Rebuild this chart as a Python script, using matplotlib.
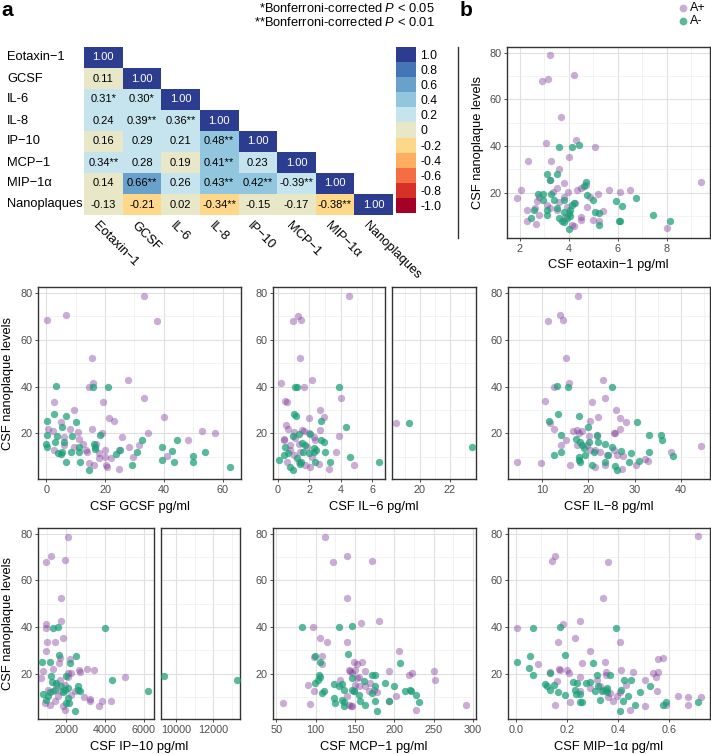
import numpy as np
import matplotlib
matplotlib.use("Agg")
from matplotlib import pyplot as plt
from matplotlib.colors import ListedColormap, BoundaryNorm
from matplotlib.ticker import MultipleLocator, FormatStrFormatter
from matplotlib.lines import Line2D
import matplotlib.transforms as mtrans

plt.rcParams['font.family'] = ['Liberation Sans', 'DejaVu Sans']
plt.rcParams['mathtext.fontset'] = 'custom'
plt.rcParams['mathtext.it'] = 'Liberation Sans:italic'
plt.rcParams['mathtext.rm'] = 'Liberation Sans'

# ---- panel a: correlation matrix ----
names = ["Eotaxin−1", "GCSF", "IL-6", "IL-8", "IP−10", "MCP−1", "MIP−1α", "Nanoplaques"]
corr_rows = [
    [1.00],
    [0.11, 1.00],
    [0.31, 0.30, 1.00],
    [0.24, 0.39, 0.36, 1.00],
    [0.16, 0.29, 0.21, 0.48, 1.00],
    [0.34, 0.28, 0.19, 0.41, 0.23, 1.00],
    [0.14, 0.66, 0.26, 0.43, 0.42, -0.39, 1.00],
    [-0.13, -0.21, 0.02, -0.34, -0.15, -0.17, -0.38, 1.00],
]
star_rows = [
    [""],
    ["", ""],
    ["*", "*", ""],
    ["", "**", "**", ""],
    ["", "", "", "**", ""],
    ["**", "", "", "**", "", ""],
    ["", "**", "", "**", "**", "**", ""],
    ["", "", "", "**", "", "", "**", ""],
]
# the published figure shades the MIP-1a / MCP-1 cell as a positive value
shade_override = {(6, 5): 0.2}

levels = [-1.0, -0.8, -0.6, -0.4, -0.2, 0.0, 0.2, 0.4, 0.6, 0.8, 1.0]
level_colors = ["#a50026", "#d73027", "#f46d43", "#fdae61", "#fdd88a", "#e8e8c9",
                "#c6e4ee", "#92c5de", "#6aa1cb", "#4575b4", "#2c3d8f"]

# ---- panel b: scatter data (x, nanoplaque level) ----
eotaxin_pos = [(3.22, 78.9), (2.91, 68.0), (3.14, 68.5), (4.23, 70.4), (3.70, 52.3), (3.06, 41.4),
               (4.29, 42.7), (5.09, 39.7), (4.0, 35.5), (2.34, 33.6), (3.29, 33.6), (3.59, 30.1),
               (3.81, 24.0), (9.40, 24.7), (2.05, 21.0), (1.9, 17.6), (5.63, 21.1), (6.08, 20.4),
               (6.52, 21.1), (5.20, 19.4), (4.49, 21.8), (4.35, 21.1), (3.96, 20.4), (4.71, 23.3),
               (3.25, 25.4), (3.36, 20.4), (2.78, 18.3), (3.62, 16.2), (4.27, 15.5), (2.30, 12.6),
               (2.61, 13.3), (2.78, 10.5), (2.30, 8.0), (2.67, 6.7), (3.52, 12.6), (3.12, 14.8),
               (3.86, 9.8), (4.49, 9.8), (4.49, 8.4), (5.0, 8.4), (5.24, 7.7), (5.41, 12.2),
               (4.14, 6.2), (4.2, 5.8), (8.01, 5.0), (2.71, 16.6), (3.52, 21.8), (4.88, 18.3),
               (3.93, 14.0), (3.25, 13.3), (3.80, 18.3), (4.75, 14.0)]
eotaxin_neg = [(3.61, 39.7), (4.15, 39.7), (4.42, 40.3), (3.12, 28.2), (3.54, 27.8), (3.22, 25.4),
               (4.72, 24.7), (4.61, 22.8), (4.75, 19.0), (2.73, 19.3), (2.95, 19.3), (3.27, 19.3),
               (2.95, 16.9), (3.41, 16.9), (3.80, 16.9), (4.99, 16.9), (5.93, 16.3), (6.17, 14.5),
               (6.76, 17.6), (3.12, 12.6), (3.52, 13.3), (3.80, 11.9), (4.0, 11.2), (4.07, 12.6),
               (4.14, 14.8), (4.20, 15.5), (5.09, 11.9), (5.24, 11.2), (3.12, 10.5), (2.57, 12.6),
               (2.44, 9.1), (3.73, 7.7), (3.80, 7.3), (4.03, 4.4), (6.06, 7.9), (6.10, 7.9),
               (5.24, 6.3), (7.46, 10.5), (8.12, 7.9), (3.93, 9.1), (3.59, 9.1), (4.07, 10.1)]

gcsf_pos = [(0.2, 68.5), (6.8, 70.4), (33.1, 78.6), (37.5, 67.9), (15.4, 52.3), (15.8, 41.3),
            (14.5, 39.6), (27.8, 42.7), (33.1, 35.3), (2.7, 33.6), (9.6, 30.2), (19.2, 33.6),
            (39.9, 27.1), (21.5, 26.5), (22.9, 25.1), (0.6, 21.8), (2.3, 21.0), (5.1, 24.7),
            (8.1, 21.7), (10.7, 20.8), (15.4, 21.7), (18.9, 20.4), (25.8, 18.7), (34.6, 20.4),
            (48.1, 17.4), (52.8, 21.0), (57.4, 20.4), (2.8, 12.9), (6.2, 15.0), (12.4, 15.7),
            (13.6, 12.9), (13.8, 12.2), (9.3, 14.3), (20.1, 12.9), (20.1, 10.1), (20.3, 6.5),
            (20.6, 5.8), (14.7, 7.5), (16.4, 6.7), (22.1, 9.4), (24.9, 4.8), (28.3, 14.3),
            (29.4, 10.1), (31.6, 15.0), (41.2, 10.5), (24.9, 12.9), (11.1, 17.6), (6.2, 18.6),
            (16.9, 15.7), (18.1, 11.5), (18.1, 9.4)]
gcsf_neg = [(3.4, 40.3), (15.8, 39.6), (21.1, 39.7), (2.6, 28.2), (6.8, 27.5), (0.1, 25.2),
            (10.2, 24.7), (5.3, 22.6), (0.1, 19.3), (3.6, 19.0), (8.8, 19.0), (18.4, 19.3),
            (2.9, 16.2), (6.0, 16.5), (0.0, 15.5), (0.2, 14.1), (11.0, 14.3), (16.2, 15.7),
            (16.7, 14.3), (16.6, 13.2), (32.5, 17.2), (44.3, 17.4), (39.3, 14.3), (42.6, 12.6),
            (4.0, 11.5), (5.2, 12.2), (8.5, 12.2), (11.3, 12.2), (23.7, 11.1), (25.1, 12.9),
            (31.0, 12.2), (53.9, 12.2), (50.0, 10.4), (6.8, 7.9), (11.6, 7.7), (14.7, 4.4),
            (29.2, 6.7), (39.2, 8.5), (43.5, 7.8), (50.0, 7.8), (62.5, 5.8), (5.1, 11.2)]

il6_pos = [(4.48, 78.6), (0.93, 67.8), (1.27, 70.2), (1.48, 68.5), (1.42, 52.2), (0.19, 41.3),
           (1.63, 39.6), (2.16, 42.7), (4.02, 35.3), (0.47, 33.7), (0.57, 33.4), (2.69, 30.2),
           (2.90, 27.1), (0.53, 23.5), (0.61, 22.1), (0.40, 17.6), (0.99, 20.7), (1.52, 21.4),
           (1.67, 21.0), (1.95, 20.3), (1.99, 26.4), (2.69, 21.4), (3.85, 19.0), (0.74, 12.9),
           (0.99, 10.8), (1.42, 12.2), (1.84, 14.3), (2.37, 17.2), (2.58, 7.2), (3.21, 4.8),
           (3.68, 12.2), (4.84, 6.5), (1.31, 15.7), (2.16, 10.1), (0.57, 7.9), (1.31, 7.9),
           (1.73, 6.5), (2.05, 5.8), (0.36, 17.2), (1.10, 17.9), (2.26, 18.6), (0.78, 15.0),
           (18.4, 24.5)]
il6_neg = [(1.06, 39.9), (1.21, 39.6), (3.85, 39.6), (0.99, 28.2), (1.16, 27.5), (2.75, 25.2),
           (4.33, 22.6), (0.93, 19.0), (1.31, 19.6), (2.05, 19.6), (2.75, 17.2), (2.94, 16.5),
           (1.52, 16.0), (1.73, 15.0), (2.26, 13.6), (2.30, 12.2), (2.43, 12.9), (3.00, 12.2),
           (0.61, 11.8), (0.36, 10.8), (0.04, 8.9), (1.21, 9.4), (1.48, 7.9), (1.95, 11.5),
           (2.33, 7.7), (3.32, 7.7), (0.95, 4.4), (0.74, 5.8), (1.37, 6.9), (4.55, 10.1),
           (1.59, 12.2), (0.47, 14.3), (6.45, 8.0), (19.3, 24.5), (23.5, 14.2)]

il8_pos = [(17.8, 78.6), (11.2, 67.9), (14.0, 70.4), (14.5, 68.5), (15.2, 52.2), (15.9, 41.3),
           (12.7, 39.6), (23.1, 42.7), (23.7, 35.3), (10.7, 33.7), (20.9, 33.4), (26.0, 30.2),
           (26.9, 26.4), (28.1, 24.7), (22.2, 27.1), (20.4, 25.2), (11.7, 24.3), (12.5, 21.7),
           (16.7, 21.0), (17.6, 21.4), (18.1, 20.4), (18.6, 21.1), (20.1, 19.0), (21.9, 19.0),
           (25.5, 20.3), (25.8, 20.4), (26.8, 21.7), (15.2, 17.4), (14.1, 15.0), (17.6, 15.0),
           (19.7, 15.0), (21.5, 12.9), (24.0, 10.8), (25.5, 12.9), (26.2, 10.8), (27.6, 10.4),
           (32.3, 9.1), (32.9, 8.4), (37.8, 11.9), (44.3, 14.6), (4.6, 7.9), (9.8, 7.5),
           (16.1, 6.5), (21.5, 5.8), (23.7, 6.5), (27.3, 4.7), (30.4, 6.5), (20.4, 12.9),
           (22.6, 12.2)]
il8_neg = [(13.2, 40.3), (15.7, 39.6), (25.2, 39.6), (13.4, 28.2), (18.0, 27.5), (11.6, 25.2),
           (30.5, 24.7), (20.0, 22.6), (14.2, 19.3), (21.9, 19.3), (33.2, 19.3), (35.7, 19.3),
           (36.0, 17.4), (17.3, 17.6), (18.3, 16.5), (20.1, 16.5), (18.6, 15.0), (19.0, 13.6),
           (22.2, 16.5), (23.7, 15.7), (25.1, 14.3), (27.1, 12.6), (29.3, 11.5), (33.2, 12.2),
           (14.2, 12.2), (12.7, 10.8), (21.2, 12.2), (24.2, 10.8), (30.9, 8.4), (28.9, 7.7),
           (38.4, 10.4), (18.3, 7.7), (18.1, 8.7), (20.7, 6.5), (25.7, 6.1), (26.3, 4.4),
           (23.7, 7.9), (17.9, 10.1), (19.4, 10.8)]

ip10_pos = [(2086, 78.6), (931, 67.9), (1224, 70.3), (1948, 68.6), (1741, 52.3), (931, 41.3),
            (966, 39.5), (1741, 42.6), (1828, 35.2), (1017, 33.5), (1397, 33.5), (931, 29.8),
            (1690, 26.7), (2207, 26.4), (1621, 24.5), (793, 21.2), (1310, 22.0), (2069, 20.3),
            (2259, 20.3), (2690, 20.7), (3069, 22.0), (3431, 21.4), (5017, 18.5), (3810, 8.4),
            (3207, 8.1), (4276, 8.1), (3241, 9.2), (3672, 6.3), (2914, 9.9), (1655, 17.4),
            (1483, 15.3), (1741, 12.4), (1914, 15.3), (1310, 12.4), (1052, 13.1), (879, 7.5),
            (1138, 6.7), (1397, 8.2), (1828, 6.0), (1914, 4.6), (2431, 12.4), (2259, 11.0),
            (1586, 10.3), (2086, 18.8), (2655, 21.7), (707, 18.1)]
ip10_neg = [(1310, 39.5), (1569, 40.2), (4000, 39.5), (1621, 28.1), (2517, 27.4), (741, 25.2),
            (1138, 25.2), (2190, 24.5), (1224, 19.1), (2000, 19.1), (4362, 17.4), (6224, 12.4),
            (793, 11.4), (1138, 12.0), (1397, 13.1), (1483, 16.0), (1914, 13.1), (2086, 13.9),
            (2603, 14.6), (2690, 12.4), (2603, 13.1), (1724, 14.6), (1810, 12.0), (2086, 9.6),
            (2138, 7.5), (2000, 7.5), (1052, 10.3), (1276, 16.3), (2466, 3.9), (931, 8.9),
            (9380, 19.1), (13240, 17.3)]

mcp1_pos = [(112.3, 78.6), (139.8, 70.2), (121.6, 67.9), (171.6, 68.4), (139.8, 52.3), (157.5, 41.6),
            (180.0, 42.7), (96.6, 39.9), (105.9, 35.5), (114.4, 33.5), (139.8, 33.5), (98.3, 27.2),
            (108.0, 27.6), (108.0, 24.1), (206.4, 29.9), (148.3, 25.0), (152.5, 24.1), (158.9, 24.8),
            (162.3, 21.3), (192.8, 21.0), (222.5, 20.3), (218.2, 19.3), (250.8, 21.0), (252.1, 17.4),
            (291.1, 6.5), (227.5, 4.6), (193.6, 8.4), (202.1, 10.3), (146.2, 6.0), (150.4, 15.3),
            (163.1, 14.6), (167.4, 12.4), (173.7, 13.1), (177.9, 12.0), (154.7, 18.8), (142.0, 21.7),
            (144.1, 21.0), (150.4, 21.4), (152.5, 18.1), (131.4, 17.1), (148.3, 12.4), (139.8, 10.3),
            (142.0, 6.7), (90.3, 15.0), (92.4, 7.2), (58.5, 7.5), (97.5, 12.4), (144.9, 6.0),
            (154.7, 14.6), (169.5, 16.0), (146.2, 20.3)]
mcp1_neg = [(82.6, 39.9), (130.1, 39.9), (146.2, 40.5), (98.7, 27.6), (141.1, 28.4), (105.0, 25.2),
            (207.6, 24.5), (103.8, 19.3), (105.0, 18.8), (103.0, 17.4), (99.6, 16.0), (110.2, 12.4),
            (108.0, 11.7), (122.9, 15.7), (129.2, 14.6), (133.5, 15.7), (135.6, 13.1), (122.9, 9.6),
            (125.0, 7.5), (133.5, 8.9), (135.6, 7.7), (135.6, 6.1), (146.2, 13.1), (156.8, 8.2),
            (171.6, 19.3), (175.8, 19.3), (161.0, 16.7), (175.8, 14.6), (187.7, 16.0), (171.6, 11.7),
            (175.8, 8.2), (177.9, 4.2), (163.1, 6.7), (199.2, 14.6), (214.0, 12.4), (219.5, 13.1),
            (221.2, 12.4), (227.5, 11.0), (230.9, 7.7), (193.6, 8.2), (146.2, 18.1), (148.3, 12.8),
            (154.7, 11.0)]

mip1a_pos = [(0.714, 78.9), (0.141, 68.3), (0.154, 70.3), (0.359, 67.9), (0.340, 52.3), (0.184, 41.3),
             (0.251, 42.6), (0.408, 33.5), (0.005, 39.5), (0.163, 33.5), (0.232, 35.5), (0.290, 29.9),
             (0.577, 26.9), (0.557, 26.4), (0.349, 25.2), (0.260, 24.5), (0.085, 24.1), (0.132, 20.7),
             (0.169, 22.0), (0.173, 21.4), (0.199, 21.7), (0.206, 20.3), (0.251, 18.8), (0.353, 20.7),
             (0.353, 19.3), (0.410, 21.4), (0.457, 20.7), (0.505, 17.4), (0.535, 20.3), (0.557, 20.6),
             (0.548, 18.4), (0.553, 12.4), (0.635, 10.6), (0.674, 10.0), (0.724, 10.0), (0.674, 6.5),
             (0.587, 6.5), (0.505, 6.0), (0.447, 4.6), (0.212, 7.7), (0.152, 6.5), (0.160, 16.7),
             (0.290, 13.9), (0.329, 14.6), (0.342, 13.1), (0.362, 9.9), (0.378, 8.2), (0.408, 12.0),
             (0.431, 15.0), (0.251, 12.4), (0.316, 17.4), (0.368, 11.7), (0.395, 10.3)]
mip1a_neg = [(0.065, 39.5), (0.173, 40.2), (0.391, 39.5), (0.004, 25.1), (0.056, 27.7), (0.193, 28.1),
             (0.301, 24.5), (0.053, 22.4), (0.065, 19.3), (0.134, 20.3), (0.319, 19.3), (0.368, 19.3),
             (0.112, 15.7), (0.121, 14.9), (0.134, 13.1), (0.150, 15.3), (0.163, 12.0), (0.223, 16.4),
             (0.232, 13.1), (0.251, 11.4), (0.236, 11.3), (0.193, 10.7), (0.238, 16.0), (0.275, 16.0),
             (0.288, 16.6), (0.320, 14.6), (0.310, 12.7), (0.336, 12.4), (0.353, 13.1), (0.355, 12.1),
             (0.329, 8.9), (0.355, 13.9), (0.410, 13.1), (0.421, 17.4), (0.449, 17.4), (0.440, 10.3),
             (0.418, 8.2), (0.408, 4.2), (0.466, 6.5), (0.525, 14.6), (0.577, 6.5), (0.587, 7.7),
             (0.714, 7.7), (0.249, 7.7), (0.258, 7.7), (0.486, 12.0)]

PURPLE, GREEN = "#7b3294", "#1b9e77"
A_PURPLE, A_GREEN = 0.4, 0.72

W, H = 711, 754
fig = plt.figure(figsize=(W / 100, H / 100), dpi=100)


def px_axes(x0, y0, x1, y1):
    return fig.add_axes([x0 / W, 1 - y1 / H, (x1 - x0) / W, (y1 - y0) / H])


def ftext(x, y, s, **kw):
    return fig.text(x / W, 1 - y / H, s, **kw)


# ---------- heatmap ----------
n = len(names)
M = np.full((n, n), np.nan)
for i, row in enumerate(corr_rows):
    M[i, :len(row)] = row
shade = np.trunc(M / 0.2 + np.sign(np.nan_to_num(M)) * 1e-9) * 0.2
for (i, j), v in shade_override.items():
    shade[i, j] = v

cmap = ListedColormap(level_colors)
bounds = np.linspace(-1.1, 1.1, 12)
norm = BoundaryNorm(bounds, cmap.N)

hx0, hy0, hx1, hy1 = 84, 47, 393, 215
hax = px_axes(hx0, hy0, hx1, hy1)
hax.pcolormesh(np.arange(n + 1), np.arange(n + 1), np.ma.masked_invalid(shade), cmap=cmap, norm=norm)
hax.set_xlim(0, n)
hax.set_ylim(n, 0)
hax.axis('off')
for i, row in enumerate(corr_rows):
    for j, v in enumerate(row):
        hax.text(j + 0.5, i + 0.5, f"{v:.2f}{star_rows[i][j]}", ha='center', va='center',
                 fontsize=8, color='white' if i == j else 'black')
row_h = (hy1 - hy0) / n
for i, name in enumerate(names):
    ftext(7, hy0 + (i + 0.5) * row_h, name, ha='left', va='center', fontsize=9.3)
lab_tr = mtrans.offset_copy(hax.transData, fig=fig, x=-3, y=-3, units='points')
for j, name in enumerate(names):
    hax.text(j + 0.5, n, name, transform=lab_tr, rotation=-45, rotation_mode='anchor',
             ha='left', va='top', fontsize=9.3, clip_on=False)

# colorbar
cax = px_axes(396, 47, 416, 213)
cax.pcolormesh([0, 1], bounds, np.array(levels).reshape(-1, 1), cmap=cmap, norm=norm)
cax.set_xlim(0, 1)
cax.set_ylim(-1.1, 1.1)
cax.set_xticks([])
cax.set_yticks(levels)
cax.set_yticklabels(["0" if abs(l) < 1e-9 else f"{l:.1f}" for l in levels])
cax.yaxis.tick_right()
cax.tick_params(axis='y', length=0, labelsize=8.7, pad=3)
for s in cax.spines.values():
    s.set_visible(False)

ftext(435, 9, r"*Bonferroni-corrected $\it{P}$ < 0.05", ha='right', va='center', fontsize=9.3)
ftext(435, 23, r"**Bonferroni-corrected $\it{P}$ < 0.01", ha='right', va='center', fontsize=9.3)

# ---------- scatter panels ----------
def scatter_panel(rect, pos, neg, xlim, major, fmt=None, ylabels=True):
    ax = px_axes(*rect)
    for pts, col, a in ((pos, PURPLE, A_PURPLE), (neg, GREEN, A_GREEN)):
        x, y = zip(*pts)
        ax.scatter(x, y, s=28, color=col, alpha=a, linewidths=0, zorder=3)
    ax.set_xlim(xlim)
    ax.set_ylim(0.6, 82.4)
    ax.xaxis.set_major_locator(MultipleLocator(major))
    ax.xaxis.set_minor_locator(MultipleLocator(major / 2))
    ax.yaxis.set_major_locator(MultipleLocator(20))
    ax.yaxis.set_minor_locator(MultipleLocator(10))
    if fmt:
        ax.xaxis.set_major_formatter(FormatStrFormatter(fmt))
    ax.grid(which='major', color='#e0e0e0', lw=0.8)
    ax.grid(which='minor', color='#eeeeee', lw=0.5)
    ax.set_axisbelow(True)
    ax.tick_params(which='minor', length=0)
    ax.tick_params(which='major', length=2.5, width=0.6, color='#333333',
                   labelsize=7.8, labelcolor='#4d4d4d', pad=1.5)
    if not ylabels:
        ax.tick_params(axis='y', left=False, labelleft=False)
    for s in ax.spines.values():
        s.set_color('#333333')
        s.set_linewidth(1.0)
    return ax


r1, r2, r3 = (47, 238), (287, 479), (528, 719)

scatter_panel((507, r1[0], 710, r1[1]), eotaxin_pos, eotaxin_neg, (1.48, 9.77), 2)
scatter_panel((38, r2[0], 241, r2[1]), gcsf_pos, gcsf_neg, (-2.8, 66.2), 20)
scatter_panel((273, r2[0], 385, r2[1]), il6_pos, il6_neg, (-0.32, 6.8), 2)
scatter_panel((392, r2[0], 476, r2[1]), il6_pos, il6_neg, (18.16, 23.76), 2, ylabels=False)
scatter_panel((508, r2[0], 710, r2[1]), il8_pos, il8_neg, (2.66, 46.3), 10)
scatter_panel((38, r3[0], 154, r3[1]), ip10_pos, ip10_neg, (534, 6517), 2000)
scatter_panel((161, r3[0], 240, r3[1]), ip10_pos, ip10_neg, (9204, 13416), 2000, ylabels=False)
scatter_panel((273, r3[0], 476, r3[1]), mcp1_pos, mcp1_neg, (45.8, 303.8), 50)
scatter_panel((508, r3[0], 710, r3[1]), mip1a_pos, mip1a_neg, (-0.031, 0.759), 0.2, fmt='%.1f')

xlab = dict(ha='center', va='center', fontsize=9.3)
ftext(608, r1[1] + 27, "CSF eotaxin−1 pg/ml", **xlab)
ftext(140, r2[1] + 28, "CSF GCSF pg/ml", **xlab)
ftext(374, r2[1] + 28, "CSF IL−6 pg/ml", **xlab)
ftext(609, r2[1] + 28, "CSF IL−8 pg/ml", **xlab)
ftext(139, r3[1] + 28, "CSF IP−10 pg/ml", **xlab)
ftext(374, r3[1] + 28, "CSF MCP−1 pg/ml", **xlab)
ftext(609, r3[1] + 28, "CSF MIP−1α pg/ml", **xlab)

ylab = dict(ha='center', va='center', fontsize=9.3, rotation=90)
ftext(478, sum(r1) / 2, "CSF nanoplaque levels", **ylab)
ftext(8, sum(r2) / 2, "CSF nanoplaque levels", **ylab)
ftext(8, sum(r3) / 2, "CSF nanoplaque levels", **ylab)

# separator line and panel letters
fig.add_artist(Line2D([458 / W, 458 / W], [1 - 47 / H, 1 - 238 / H], transform=fig.transFigure,
                      color='#333333', lw=1.0))
ftext(1, 10, "a", ha='left', va='center', fontsize=15, fontweight='bold')
ftext(460, 10, "b", ha='left', va='center', fontsize=15, fontweight='bold')

# legend
for yy, col, a, lab in ((8, PURPLE, A_PURPLE, "A+"), (21, GREEN, A_GREEN, "A-")):
    fig.add_artist(Line2D([683 / W], [1 - yy / H], transform=fig.transFigure, marker='o',
                          ms=5.6, color=col, alpha=a, markeredgewidth=0, linestyle='none'))
    ftext(690, yy, lab, ha='left', va='center', fontsize=9)

fig.savefig("out.png", dpi=100)
